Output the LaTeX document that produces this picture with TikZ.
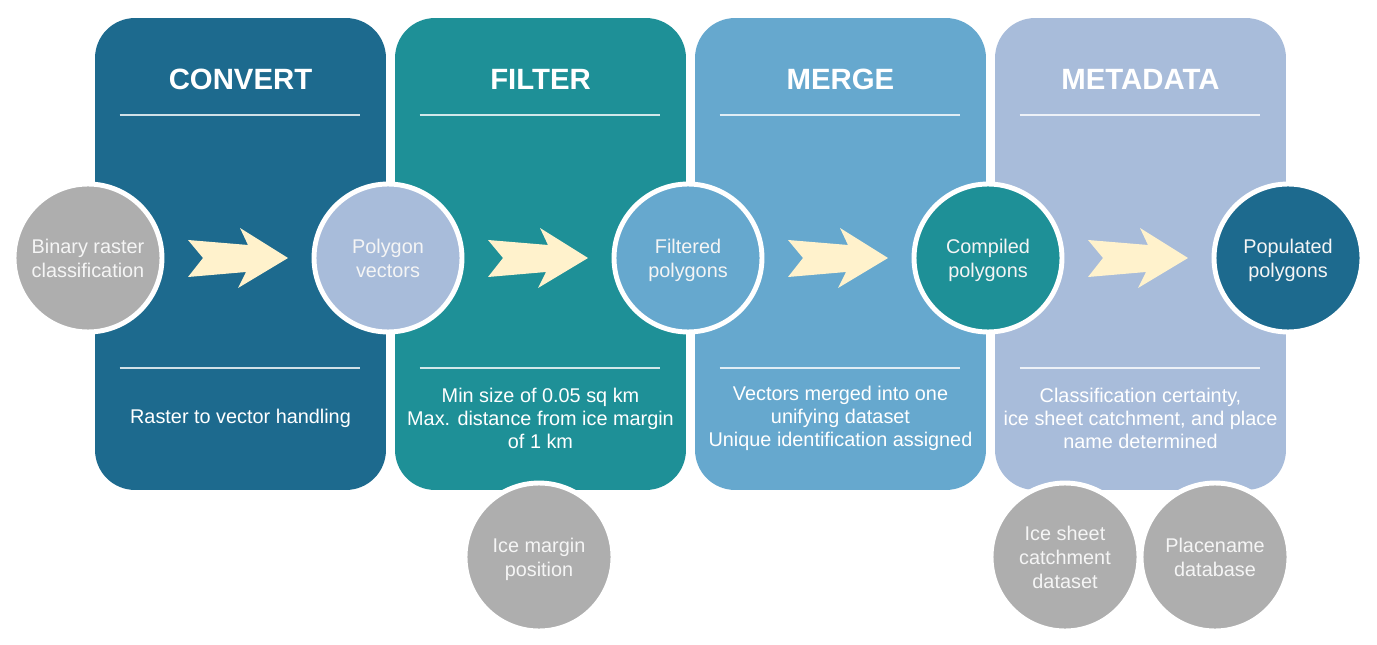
\documentclass[tikz,border=0pt]{standalone}
\usepackage{fontspec}
\setmainfont{Liberation Sans}
\usetikzlibrary{positioning,calc}
\definecolor{convcol}{RGB}{29,106,142}
\definecolor{filtcol}{RGB}{30,144,151}
\definecolor{mergecol}{RGB}{102,168,206}
\definecolor{metacol}{RGB}{168,188,218}
\definecolor{srccol}{RGB}{174,174,174}
\definecolor{chevcol}{RGB}{255,242,204}

\begin{document}
\begin{tikzpicture}[x=0.02cm,y=-0.02cm,
    panel/.style={rectangle,rounded corners=0.8cm,minimum width=5.82cm,minimum height=9.44cm,inner sep=0pt,fill=#1},
    head/.style={font=\bfseries\fontsize{16.7}{20}\selectfont,text=white},
    note/.style={font=\fontsize{11.3}{13.1}\selectfont,text=white,align=center},
    disc/.style={circle,draw=white,line width=2.8pt,minimum size=2.96cm,inner sep=0pt,fill=#1,
      font=\fontsize{11.3}{13.6}\selectfont,text=white!96!black,align=center,text depth=0pt,yshift=-0.02cm},
    rule/.style={draw=white,line width=1.1pt,opacity=0.8},
    chev/.pic={\fill[chevcol] (-50,-18) -- (-35,0) -- (-50,19) -- (8,14) -- (0,30)
      -- (50,0) -- (2,-30) -- (10,-13) -- cycle;}]
  \useasboundingbox (0,0) rectangle (1377,645);
  % stage panels
  \node[panel=convcol] (convert) at (240.5,254) {};
  \node[panel=filtcol] (filter) at (540.5,254) {};
  \node[panel=mergecol] (merge) at (840.5,254) {};
  \node[panel=metacol] (meta) at (1140.5,254) {};
  \foreach \p in {convert,filter,merge,meta} {
    \draw[rule] ($(\p.north west)+(25,97)$) -- ($(\p.north east)+(-26,97)$);
    \draw[rule] ($(\p.north west)+(25,350)$) -- ($(\p.north east)+(-26,350)$);
  }
  \node[head] (tconvert) at (240.5,79) {CONVERT};
  \node[head] (tfilter) at (540.5,79) {FILTER};
  \node[head] (tmerge) at (840.5,79) {MERGE};
  \node[head] (tmeta) at (1140.5,79) {METADATA};
  \node[note] (nconvert) at (240.5,418) {Raster to vector handling};
  \node[note] (nfilter) at (540.5,418) {Min size of 0.05 sq km\\Max. distance from ice margin\\of 1 km};
  \node[note] (nmerge) at (840.5,418) {Vectors merged into one\\unifying dataset\\Unique identification assigned};
  \node[note] (nmeta) at (1140.5,418) {Classification certainty,\\ice sheet catchment, and place\\name determined};
  % products along the chain
  \node[disc=srccol] (raster) at (88,257) {Binary raster\\classification};
  \node[disc=metacol] (vectors) at (388,257) {Polygon\\vectors};
  \node[disc=mergecol] (filtered) at (688,257) {Filtered\\polygons};
  \node[disc=filtcol] (compiled) at (988,257) {Compiled\\polygons};
  \node[disc=convcol] (populated) at (1288,257) {Populated\\polygons};
  % extra inputs
  \node[disc=srccol] (margin) at (539,556) {Ice margin\\position};
  \node[disc=srccol] (catchment) at (1065,556) {Ice sheet\\catchment\\dataset};
  \node[disc=srccol] (placename) at (1215,556) {Placename\\database};
  \pic at ($(raster)!0.5!(vectors)$) {chev};
  \pic at ($(vectors)!0.5!(filtered)$) {chev};
  \pic at ($(filtered)!0.5!(compiled)$) {chev};
  \pic at ($(compiled)!0.5!(populated)$) {chev};
\end{tikzpicture}
\end{document}
